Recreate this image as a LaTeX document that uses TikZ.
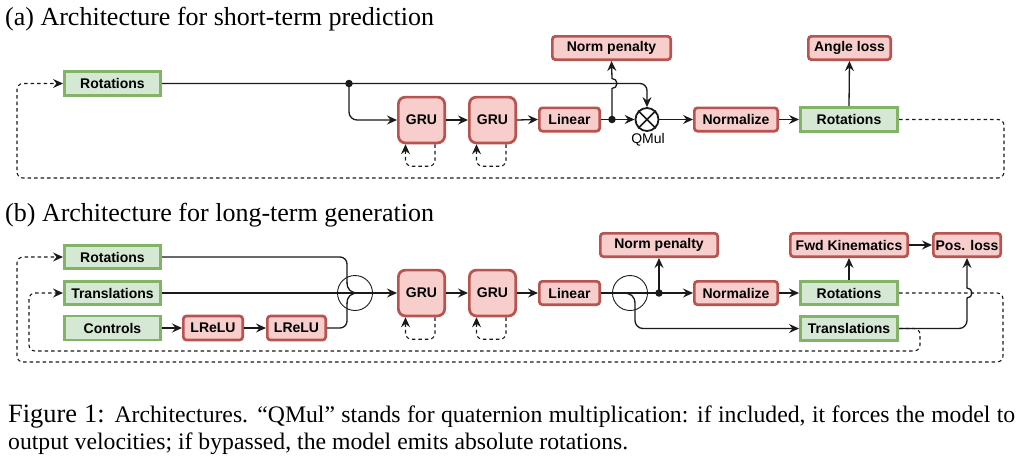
\documentclass[tikz,border=0pt]{standalone}
\usepackage{fontspec}
\setmainfont{Liberation Serif}
\setsansfont{Liberation Sans}
\usetikzlibrary{arrows.meta}
\definecolor{redf}{HTML}{F8CECC}
\definecolor{redd}{HTML}{B85450}
\definecolor{greenf}{HTML}{D5E8D4}
\definecolor{greend}{HTML}{82B366}
\definecolor{ink}{HTML}{1A1A1A}
\begin{document}
\begin{tikzpicture}[x=1pt,y=-1pt,
  box/.style={line width=2.7pt, inner sep=0pt, font=\sffamily\bfseries\fontsize{14}{16}\selectfont, text=black},
  redbox/.style={box, draw=redd, fill=redf, rounded corners=3pt},
  greenbox/.style={box, draw=greend, fill=greenf},
  grubox/.style={box, draw=redd, fill=redf, rounded corners=7pt, minimum width=46.3pt, minimum height=45.8pt},
  conn/.style={line width=1.3pt, draw=ink},
  tip/.style={-{Stealth[length=10pt,width=9pt,inset=3.5pt]}},
  arr/.style={conn, tip},
  dsh/.style={line width=1.1pt, draw=ink, dash pattern=on 3.5pt off 3pt},
  jdot/.style={circle, fill=ink, inner sep=0pt, minimum size=7.5pt},
  ring/.style={circle, draw=ink, line width=0.9pt, inner sep=0pt, minimum size=35pt},
  ttl/.style={anchor=base west, inner sep=0pt, font=\fontsize{26}{30}\selectfont}
]
\useasboundingbox[fill=white] (0,0) rectangle (1028,466);

% ---------- titles ----------
\node[ttl] (ta) at (5,25) {(a) Architecture for short-term prediction};
\node[ttl] (tb) at (5,221) {(b) Architecture for long-term generation};

% ---------- (a) nodes ----------
\node[greenbox, minimum width=96.3pt, minimum height=24.3pt] (rotA) at (112.5,83.5) {Rotations};
\node[grubox] (gruA1) at (421.5,120) {GRU};
\node[grubox] (gruA2) at (492.5,120) {GRU};
\node[redbox, minimum width=60.3pt, minimum height=23.3pt] (linA) at (569.5,119.5) {Linear};
\node[circle, draw=ink, line width=1.8pt, inner sep=0pt, minimum size=23pt] (qmul) at (647,119.5) {};
\draw[ink, line width=1.6pt] (qmul.45) -- (qmul.225) (qmul.135) -- (qmul.-45);
\node[font=\sffamily\fontsize{14}{16}\selectfont, inner sep=0pt] (ql) at (648,140) {QMul};
\node[redbox, minimum width=118.3pt, minimum height=23.3pt] (npA) at (611.5,48) {Norm penalty};
\node[redbox, minimum width=83.3pt, minimum height=23.3pt] (normA) at (736,119.5) {Normalize};
\node[greenbox, minimum width=97.3pt, minimum height=24.3pt] (rotA2) at (849,119.5) {Rotations};
\node[redbox, minimum width=82.3pt, minimum height=23.3pt] (angle) at (849.5,48) {Angle loss};
\node[jdot] (dA1) at (349,83.5) {};
\node[jdot] (dA2) at (612,119.5) {};

% ---------- (a) connectors ----------
\draw[arr, rounded corners=7pt] (rotA.east) -- (647,83.5) -- (qmul.north);
\draw[arr, rounded corners=8pt] (dA1.center) |- (gruA1.west);
\draw[arr] (gruA1.east) -- (gruA2.west);
\draw[arr] (gruA2.east) -- (linA.west);
\draw[arr] (linA.east) -- (qmul.west);
\draw[arr] (dA2.center) -- (612,88.5) arc[start angle=90, end angle=-90, radius=5] -- (npA.south);
\draw[arr] (qmul.east) -- (normA.west);
\draw[arr] (normA.east) -- (rotA2.west);
\draw[arr] (rotA2.north) -- (angle.south);
\draw[dsh, tip, rounded corners=6pt] (rotA2.east) -- (1004,119.5) -- (1004,178) -- (17,178) -- (17,83.5) -- (rotA.west);
\draw[dsh, tip, rounded corners=6pt] ([xshift=13.5pt]gruA1.south) -- ++(0,22) -| ([xshift=-16pt]gruA1.south);
\draw[dsh, tip, rounded corners=6pt] ([xshift=13.5pt]gruA2.south) -- ++(0,22) -| ([xshift=-16pt]gruA2.south);

% ---------- (b) nodes ----------
\node[greenbox, minimum width=96.3pt, minimum height=23.3pt] (rotB) at (112.5,257) {Rotations};
\node[greenbox, minimum width=96.3pt, minimum height=23.3pt] (trB) at (112.5,293) {Translations};
\node[greenbox, minimum width=96.3pt, minimum height=24pt] (ctrl) at (112.5,328) {Controls};
\node[redbox, minimum width=59.3pt, minimum height=24pt] (lr1) at (213,328) {LReLU};
\node[redbox, minimum width=58.3pt, minimum height=24pt] (lr2) at (296.5,328) {LReLU};
\node[ring] (mrg) at (355,293) {};
\node[grubox] (gruB1) at (421.5,293) {GRU};
\node[grubox] (gruB2) at (492.5,293) {GRU};
\node[redbox, minimum width=60.3pt, minimum height=23.3pt] (linB) at (569.5,293) {Linear};
\node[ring] (jmp) at (630,293) {};
\node[jdot] (dB) at (659,293) {};
\node[redbox, minimum width=117.3pt, minimum height=23.3pt] (npB) at (659,245) {Norm penalty};
\node[redbox, minimum width=83.3pt, minimum height=23.3pt] (normB) at (736,293) {Normalize};
\node[greenbox, minimum width=97.3pt, minimum height=23.3pt] (rotB2) at (849,293) {Rotations};
\node[greenbox, minimum width=97.3pt, minimum height=24pt] (trB2) at (849,328.5) {Translations};
\node[redbox, minimum width=117.3pt, minimum height=23.3pt] (fk) at (849,245) {Fwd Kinematics};
\node[redbox, minimum width=67.3pt, minimum height=23.3pt] (pos) at (967,245) {Pos. loss};
\coordinate (brB) at (622,293);

% ---------- (b) connectors ----------
\draw[conn, rounded corners=7pt] (rotB.east) -- (347,257) -- (347,283);
\draw[conn] (347,282) .. controls (347,290) and (351,293) .. (359,293);
\draw[conn, rounded corners=7pt] (lr2.east) -- (347,328) -- (347,303);
\draw[conn] (347,304) .. controls (347,296) and (351,293) .. (359,293);
\draw[arr] (trB.east) -- (gruB1.west);
\draw[arr] (ctrl.east) -- (lr1.west);
\draw[arr] (lr1.east) -- (lr2.west);
\draw[arr] (gruB1.east) -- (gruB2.west);
\draw[arr] (gruB2.east) -- (linB.west);
\draw[conn] (linB.east) -- (dB.center);
\draw[arr] (dB.center) -- (normB.west);
\draw[arr] (dB.center) -- (npB.south);
\draw[arr] (brB) .. controls (631,293) and (635,296) .. (635,304) [rounded corners=8pt] -- (635,328.5) -- (trB2.west);
\draw[arr] (normB.east) -- (rotB2.west);
\draw[arr] (rotB2.north) -- (fk.south);
\draw[arr] (fk.east) -- (pos.west);
\draw[conn, rounded corners=8pt] (trB2.east) -- (967,328.5) -- (967,297.5);
\draw[arr] (967,298) arc[start angle=90, end angle=-90, radius=5] -- (pos.south);
\draw[dsh, tip, rounded corners=6pt] (rotB2.east) -- (1003,293) -- (1003,362) -- (17,362) -- (17,257) -- (rotB.west);
\draw[dsh, tip, rounded corners=6pt] (trB2.east) -- (920,328.5) -- (920,351) -- (29,351) -- (29,293) -- (trB.west);
\draw[dsh, tip, rounded corners=6pt] ([xshift=13.5pt]gruB1.south) -- ++(0,22) -| ([xshift=-16pt]gruB1.south);
\draw[dsh, tip, rounded corners=6pt] ([xshift=13.5pt]gruB2.south) -- ++(0,22) -| ([xshift=-16pt]gruB2.south);

% ---------- caption ----------
\node[anchor=base west, inner sep=0pt] (cap1) at (8,422) {\makebox[1007pt][s]{\fontsize{26.4}{30}\selectfont Figure 1: \fontsize{23.7}{27}\selectfont Architectures. “QMul” stands for quaternion multiplication: if included, it forces the model to}};
\node[anchor=base west, inner sep=0pt, font=\fontsize{23.7}{27}\selectfont] (cap2) at (8,449) {output velocities; if bypassed, the model emits absolute rotations.};
\end{tikzpicture}
\end{document}
